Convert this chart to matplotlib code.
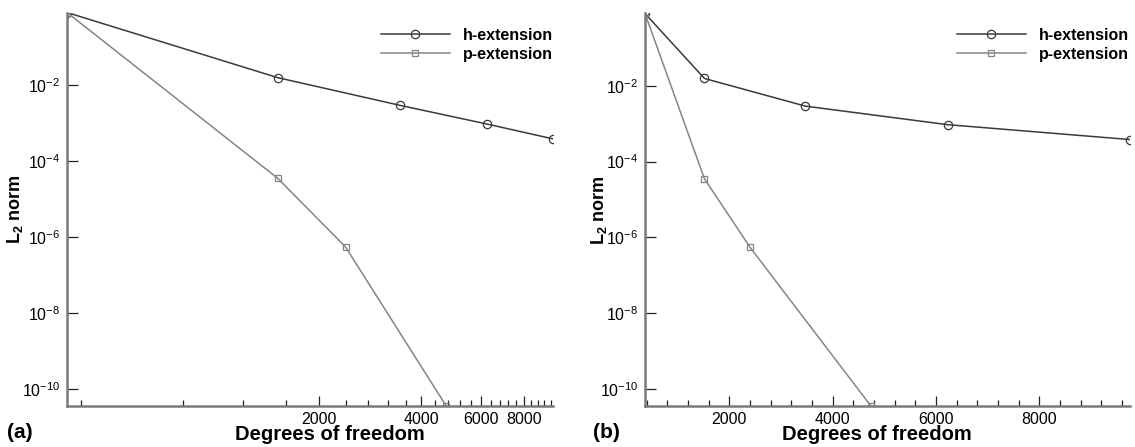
"""
Convergence of the L2 error norm under h- and p-extension,
on a log and a linear degrees-of-freedom axis.
"""

import numpy as np
import matplotlib
matplotlib.use("Agg")
import matplotlib.pyplot as plt
from matplotlib.ticker import FixedLocator, FuncFormatter, NullLocator

plt.rcParams["font.family"] = ["Liberation Sans", "DejaVu Sans"]
plt.rcParams["mathtext.fontset"] = "custom"
plt.rcParams["mathtext.rm"] = "Liberation Sans"
plt.rcParams["mathtext.bf"] = "Liberation Sans:bold"

# degrees of freedom and L2 error for each refinement
h_dof = [365, 1516, 3471, 6225, 9757]
h_err = [0.81, 0.0156, 0.0029, 9.4e-4, 3.8e-4]
p_dof = [365, 1516, 2400, 4740]
p_err = [0.81, 3.5e-5, 5.4e-7, 3.5e-11]

x_major = [2000, 4000, 6000, 8000]
y_major = [1e-2, 1e-4, 1e-6, 1e-8, 1e-10]

H_COLOR = "#3a3a3a"
P_COLOR = "#858585"
AXIS_COLOR = "#7a7a7a"

W, H = 1135, 447
fig = plt.figure(figsize=(W / 100, H / 100), dpi=100)


def _box(x0, x1, y0, y1):
    return [x0 / W, 1 - y1 / H, (x1 - x0) / W, (y1 - y0) / H]


def _style(ax, logx, legend_x, ylabel_x):
    ax.plot(h_dof, h_err, "-o", color=H_COLOR, lw=1.1, ms=6,
            mfc="none", mec=H_COLOR, mew=0.9, label="h-extension")
    ax.plot(p_dof, p_err, "-s", color=P_COLOR, lw=1.1, ms=4.5,
            mfc="none", mec=P_COLOR, mew=0.9, label="p-extension")
    if logx:
        ax.set_xscale("log")
    ax.set_yscale("log")
    ax.set_xlim(h_dof[0], h_dof[-1])
    ax.set_ylim(p_err[-1], h_err[0])

    ax.xaxis.set_major_locator(FixedLocator(x_major))
    minors = [v for v in range(400, 10000, 400) if v not in x_major]
    ax.xaxis.set_minor_locator(FixedLocator(minors))
    ax.xaxis.set_major_formatter(FuncFormatter(lambda v, _: f"{v:.0f}"))
    ax.xaxis.set_minor_formatter(FuncFormatter(lambda v, _: ""))
    ax.yaxis.set_major_locator(FixedLocator(y_major))
    ax.yaxis.set_minor_locator(NullLocator())
    ax.yaxis.set_major_formatter(
        FuncFormatter(lambda v, _: r"$10^{%d}$" % round(np.log10(v))))

    for side in ("top", "right"):
        ax.spines[side].set_visible(False)
    for side in ("left", "bottom"):
        ax.spines[side].set_color(AXIS_COLOR)
        ax.spines[side].set_linewidth(1.8)
    ax.tick_params(which="both", direction="in", color="#222222",
                   width=0.9, labelsize=11.5)
    ax.tick_params(axis="y", which="major", length=8, pad=5)
    ax.tick_params(axis="x", which="major", length=7, pad=4)
    ax.tick_params(axis="x", which="minor", length=4)

    ax.set_ylabel(r"$\mathbf{L_2}$ norm", fontsize=13, fontweight="bold")
    x0 = ax.get_position().x0 * W
    ax.yaxis.set_label_coords((ylabel_x - x0) / (ax.get_position().width * W),
                              0.5)
    ax.legend(loc="upper left", frameon=False,
              handlelength=4.3, handletextpad=0.8, labelspacing=0.22,
              borderpad=0, borderaxespad=0,
              prop={"weight": "bold", "size": 11.5},
              bbox_to_anchor=(legend_x / W, 1 - 28 / H),
              bbox_transform=fig.transFigure)


ax_a = fig.add_axes(_box(67, 553, 12.5, 406))
_style(ax_a, logx=True, legend_x=381, ylabel_x=25)

ax_b = fig.add_axes(_box(645, 1130, 13.5, 406))
_style(ax_b, logx=False, legend_x=957, ylabel_x=609)

for cx in (330, 877):
    fig.text(cx / W, 1 - 435 / H, "Degrees of freedom", ha="center",
             va="center", fontsize=14.5, fontweight="bold")
for lx, txt in ((7, "(a)"), (593, "(b)")):
    fig.text(lx / W, 1 - 432 / H, txt, ha="left", va="center",
             fontsize=15, fontweight="bold")

fig.savefig("out.png", dpi=100)
